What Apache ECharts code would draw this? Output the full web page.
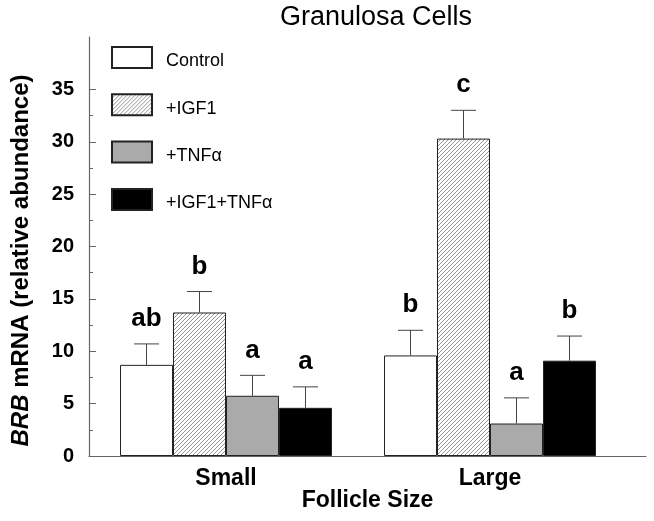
<!DOCTYPE html>
<html>
<head>
<meta charset="utf-8">
<script src="https://cdn.jsdelivr.net/npm/echarts@6/dist/echarts.min.js"></script>
<style>
html, body { margin: 0; padding: 0; background: #fff; }
#chart { width: 654px; height: 521px; }
</style>
</head>
<body>
<div id="chart"></div>
<script>
// follicle size groups and treatments
const sizes = ['Small', 'Large']
const treatments = ['Control', '+IGF1', '+TNFα', '+IGF1+TNFα']
// mean relative abundance, per size
const controlMean = [8.7, 9.6]
const igf1Mean = [13.7, 30.3]
const tnfMean = [5.75, 3.1]
const comboMean = [4.6, 9.1]
// error bar (upper only)
const controlErr = [2.0, 2.4]
const igf1Err = [2.0, 2.7]
const tnfErr = [1.95, 2.45]
const comboErr = [2.0, 2.35]
// significance letters
const controlLetters = ['ab', 'b']
const igf1Letters = ['b', 'c']
const tnfLetters = ['a', 'a']
const comboLetters = ['a', 'b']
// y axis ticks
const majorTicks = [0, 5, 10, 15, 20, 25, 30, 35]
const minorTicks = [2.5, 7.5, 12.5, 17.5, 22.5, 27.5, 32.5]

const means = [controlMean, igf1Mean, tnfMean, comboMean]
const errs = [controlErr, igf1Err, tnfErr, comboErr]
const letters = [controlLetters, igf1Letters, tnfLetters, comboLetters]

const FONT = 'Liberation Sans, Arial, sans-serif'
const BAR_W = 53

// hatch pattern for +IGF1
function hatch() {
    let c = document.createElement('canvas')
    c.width = 4
    c.height = 4
    let ctx = c.getContext('2d')
    ctx.fillStyle = '#fff'
    ctx.fillRect(0, 0, 4, 4)
    ctx.strokeStyle = '#777'
    ctx.lineWidth = 0.8
    ctx.beginPath()
    ctx.moveTo(0, 4); ctx.lineTo(4, 0)
    ctx.moveTo(-1, 1); ctx.lineTo(1, -1)
    ctx.moveTo(3, 5); ctx.lineTo(5, 3)
    ctx.stroke()
    return c
}

const fills = ['#ffffff', { image: hatch(), repeat: 'repeat' }, '#aaaaaa', '#000000']

let series = []
treatments.forEach((name, s) => {
    series.push({
        name: name,
        type: 'bar',
        xAxisIndex: 0,
        yAxisIndex: 0,
        data: means[s],
        barWidth: BAR_W,
        barGap: '0%',
        itemStyle: { color: fills[s], borderColor: '#222', borderWidth: 1 }
    })
})
treatments.forEach((name, s) => {
    series.push({
        type: 'custom',
        xAxisIndex: 0,
        yAxisIndex: 0,
        z: 5,
        clip: false,
        data: sizes.map((c, j) => [j, means[s][j], errs[s][j]]),
        encode: { x: 0, y: 1 },
        renderItem: function (params, api) {
            let ci = api.value(0), m = api.value(1), e = api.value(2)
            let base = api.coord([ci, m])
            let top = api.coord([ci, m + e])
            let x = base[0] + (s - 1.5) * BAR_W
            let lineStyle = { stroke: '#444', lineWidth: 1 }
            return {
                type: 'group',
                children: [
                    { type: 'line', shape: { x1: x, y1: base[1], x2: x, y2: top[1] }, style: lineStyle },
                    { type: 'line', shape: { x1: x - 12.5, y1: top[1], x2: x + 12.5, y2: top[1] }, style: lineStyle },
                    {
                        type: 'text',
                        x: x,
                        y: top[1] - 12,
                        style: {
                            text: letters[s][params.dataIndex],
                            fill: '#000',
                            font: 'bold 26px ' + FONT,
                            align: 'center',
                            verticalAlign: 'bottom'
                        }
                    }
                ]
            }
        }
    })
})

let myChart = echarts.init(document.getElementById('chart'))
let option = {
    animation: false,
    title: {
        text: 'Granulosa Cells',
        left: 280,
        top: 4,
        padding: 0,
        textStyle: { fontFamily: FONT, fontSize: 27, fontWeight: 'normal', color: '#000' }
    },
    legend: {
        data: treatments,
        orient: 'vertical',
        left: 111,
        top: 46,
        padding: 0,
        itemWidth: 40,
        itemHeight: 21,
        itemGap: 22.8,
        icon: 'rect',
        selectedMode: false,
        formatter: '{t|{name}}',
        textStyle: {
            padding: [0, 0, 0, 9],
            rich: { t: { fontFamily: FONT, fontSize: 18, color: '#000', padding: [8, 0, 0, 0] } }
        }
    },
    grid: [
        { left: 94, right: 32, top: 37, bottom: 65 },
        { left: 89, right: 8, top: 37, bottom: 65 }
    ],
    xAxis: [
        {
            type: 'category',
            gridIndex: 0,
            data: sizes,
            axisLine: { show: false },
            axisTick: { show: false },
            axisLabel: { fontFamily: FONT, fontSize: 23, fontWeight: 'bold', color: '#000', margin: 11 }
        },
        {
            type: 'value',
            gridIndex: 1,
            min: 0,
            max: 1,
            axisLine: { show: true, lineStyle: { color: '#666', width: 1.2 } },
            axisTick: { show: false },
            axisLabel: { show: false },
            splitLine: { show: false },
            name: 'Follicle Size',
            nameLocation: 'middle',
            nameGap: 33,
            nameTextStyle: { fontFamily: FONT, fontSize: 23, fontWeight: 'bold', color: '#000' }
        }
    ],
    yAxis: [
        { type: 'value', gridIndex: 0, min: 0, max: 40, show: false },
        {
            type: 'value',
            gridIndex: 1,
            position: 'left',
            min: 0,
            max: 40,
            interval: 5,
            axisLine: { show: true, lineStyle: { color: '#666', width: 1.2 } },
            axisTick: { show: true, inside: true, length: 7, customValues: majorTicks, lineStyle: { color: '#666' } },
            axisLabel: { customValues: majorTicks, fontFamily: FONT, fontSize: 20, fontWeight: 'bold', color: '#000', margin: 15 },
            splitLine: { show: false },
            name: '{i|BRB} mRNA (relative abundance)',
            nameLocation: 'middle',
            nameGap: 56,
            nameTextStyle: {
                fontFamily: FONT, fontSize: 24, fontWeight: 'bold', color: '#000',
                padding: [0, 28, 0, 0],
                rich: { i: { fontFamily: FONT, fontSize: 24, fontWeight: 'bold', fontStyle: 'italic', color: '#000' } }
            }
        },
        {
            type: 'value',
            gridIndex: 1,
            position: 'left',
            min: 0,
            max: 40,
            axisLine: { show: false },
            axisTick: { show: true, inside: true, length: 4, customValues: minorTicks, lineStyle: { color: '#666' } },
            axisLabel: { show: false },
            splitLine: { show: false }
        }
    ],
    series: series
}
myChart.setOption(option)
</script>
</body>
</html>
